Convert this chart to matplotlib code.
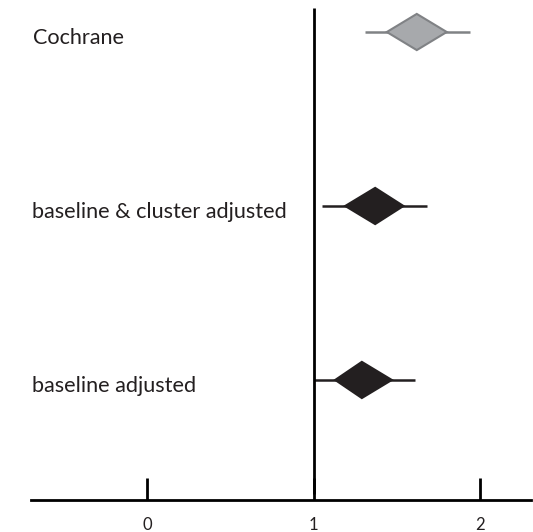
import matplotlib
matplotlib.use("Agg")
import matplotlib.pyplot as plt
import matplotlib.transforms as mtransforms

# Data
labels = ["Cochrane", "baseline & cluster adjusted", "baseline adjusted"]
estimates = [1.62, 1.37, 1.29]
ci_low = [1.44, 1.19, 1.13]
ci_high = [1.80, 1.54, 1.47]
pi_low = [1.31, 1.05, 1.00]
pi_high = [1.94, 1.68, 1.61]
row_pos = [2, 1, 0]
fill_colors = ["#a7a9ac", "#231f20", "#231f20"]
edge_colors = ["#808285", "#231f20", "#231f20"]
xticks = [0, 1, 2]
xtick_labels = ["0", "1", "2"]

W, H = 533, 532
fig = plt.figure(figsize=(W / 100, H / 100), dpi=100)
ax = fig.add_axes([31 / W, 1 - 500 / H, 500 / W, (500 - 8) / H])
ax.set_xlim(-0.697, 2.306)
ax.set_ylim(-0.69, 2.138)

ink = "#231f20"
half_h = 0.104
for lab, y, c, lo, hi, plo, phi, fc, ec in zip(labels, row_pos, estimates, ci_low, ci_high,
                                               pi_low, pi_high, fill_colors, edge_colors):
    ax.plot([plo, phi], [y, y], color=ec, lw=1.8, solid_capstyle="butt", zorder=2)
    ax.fill([lo, c, hi, c], [y, y + half_h, y, y - half_h], facecolor=fc, edgecolor=ec,
            lw=1.5, zorder=3, joinstyle="miter")
    trans = mtransforms.blended_transform_factory(ax.transAxes, ax.transData)
    ax.text(0.003, y - 0.068, lab, transform=trans, ha="left", va="baseline",
            fontsize=15.6, family="Lato", color=ink)

# reference line at 1
ax.plot([1, 1], [-0.655, 2.138], color="black", lw=2, solid_capstyle="butt", zorder=4,
        clip_on=False)

for s in ["top", "right", "left"]:
    ax.spines[s].set_visible(False)
ax.spines["bottom"].set_linewidth(2)
ax.spines["bottom"].set_color("black")
ax.set_yticks([])
ax.set_xticks(xticks)
ax.set_xticklabels(xtick_labels, family="Lato", fontsize=12, color=ink)
ax.tick_params(axis="x", direction="in", length=16, width=2, pad=12, color="black")

fig.savefig("out.png", dpi=100)
